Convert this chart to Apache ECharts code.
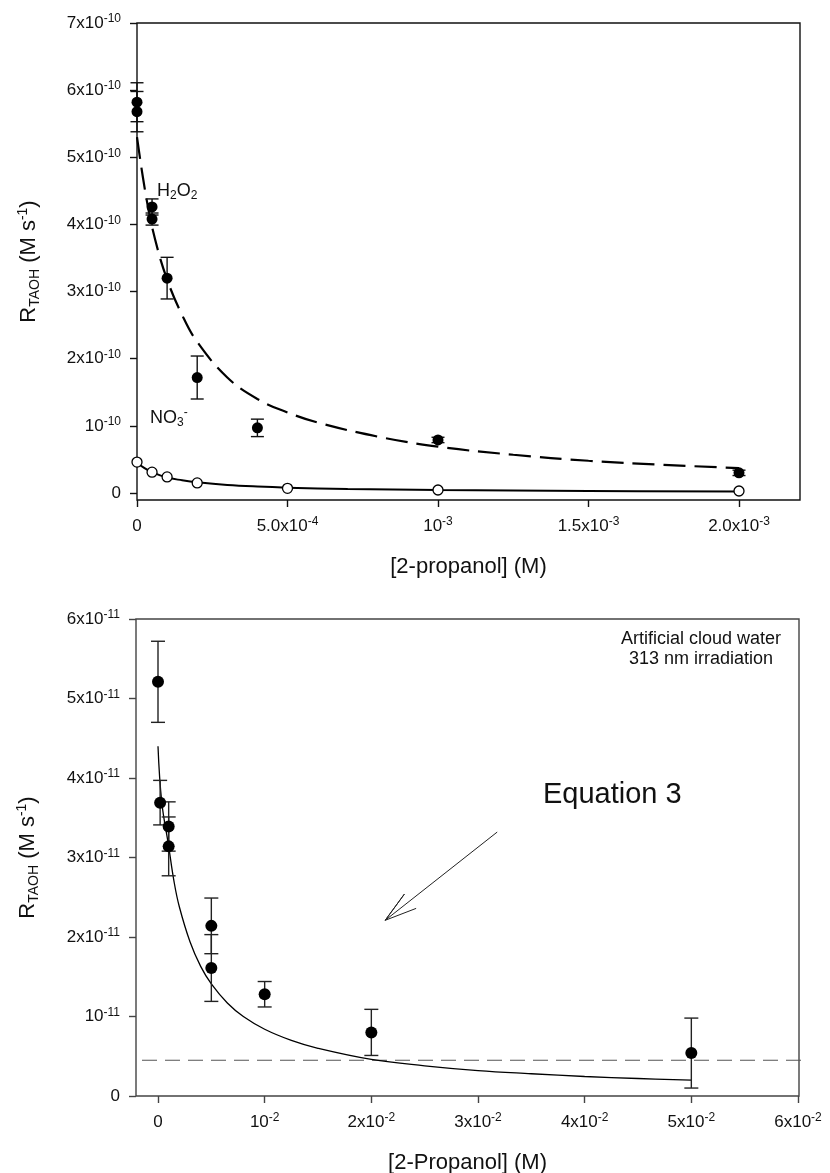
<!DOCTYPE html>
<html>
<head>
<meta charset="utf-8">
<script src="https://cdn.jsdelivr.net/npm/echarts@6/dist/echarts.min.js"></script>
<style>
  html, body { margin: 0; padding: 0; background: #fff; }
  #main { width: 830px; height: 1173px; }
</style>
</head>
<body>
<div id="main"></div>
<script>
// ---- top panel: H2O2 / NO3- (rates in units of 1e-10 M s-1) ----
var h2o2Conc = [0, 0, 0.00005, 0.00005, 0.0001, 0.0002, 0.0004, 0.001, 0.002];
var h2o2Rate = [5.82, 5.68, 4.26, 4.08, 3.20, 1.72, 0.97, 0.79, 0.30];
var h2o2Err = [0.29, 0.30, 0.12, 0.09, 0.31, 0.32, 0.13, 0.04, 0.04];

var no3Conc = [0, 0.00005, 0.0001, 0.0002, 0.0005, 0.001, 0.002];
var no3Rate = [0.46, 0.31, 0.24, 0.15, 0.07, 0.045, 0.03];

// fitted curves
var h2o2FitConc = [0, 0.00003, 0.00006, 0.0001, 0.00015, 0.0002, 0.0003, 0.0004, 0.0005, 0.0006, 0.0008, 0.001, 0.00125, 0.0015, 0.00175, 0.002];
var h2o2FitRate = [5.30, 4.42, 3.78, 3.18, 2.65, 2.25, 1.72, 1.40, 1.20, 1.05, 0.84, 0.69, 0.57, 0.48, 0.42, 0.37];
var no3FitConc = [0, 0.000025, 0.00005, 0.0001, 0.00015, 0.0002, 0.0003, 0.0004, 0.0005, 0.0007, 0.001, 0.0015, 0.002];
var no3FitRate = [0.45, 0.37, 0.31, 0.23, 0.19, 0.16, 0.12, 0.096, 0.08, 0.06, 0.044, 0.03, 0.023];

var topXLabels = ['0', '5.0x10^-4', '10^-3', '1.5x10^-3', '2.0x10^-3'];
var topYLabels = ['0', '10^-10', '2x10^-10', '3x10^-10', '4x10^-10', '5x10^-10', '6x10^-10', '7x10^-10'];

// ---- bottom panel: artificial cloud water (rates in units of 1e-11 M s-1) ----
var cloudConc = [0, 0.0002, 0.001, 0.001, 0.005, 0.005, 0.01, 0.02, 0.05];
var cloudRate = [5.21, 3.69, 3.39, 3.14, 2.14, 1.61, 1.28, 0.80, 0.54];
var cloudErr = [0.51, 0.28, 0.31, 0.37, 0.35, 0.42, 0.16, 0.29, 0.44];

var cloudFitConc = [0, 0.00035, 0.001, 0.0015, 0.002, 0.003, 0.004, 0.005, 0.0065, 0.008, 0.01, 0.0125, 0.015, 0.02, 0.025, 0.03, 0.035, 0.04, 0.045, 0.05];
var cloudFitRate = [4.40, 3.70, 3.14, 2.70, 2.38, 1.94, 1.63, 1.41, 1.17, 1.00, 0.84, 0.70, 0.60, 0.46, 0.38, 0.32, 0.28, 0.245, 0.22, 0.20];

var baselineConc = [-0.0015, 0.0604];
var baselineRate = 0.45;

// "Equation 3" arrow: tail, tip, wing, tip, wing
var arrowConc = [0.0318, 0.0213, 0.0231, 0.0213, 0.0242];
var arrowRate = [3.32, 2.21, 2.54, 2.21, 2.36];

var bottomXLabels = ['0', '10^-2', '2x10^-2', '3x10^-2', '4x10^-2', '5x10^-2', '6x10^-2'];
var bottomYLabels = ['0', '10^-11', '2x10^-11', '3x10^-11', '4x10^-11', '5x10^-11', '6x10^-11'];

var FONT = '"Liberation Sans", Arial, sans-serif';

// plot boxes (px): data area and surrounding frame
var topData = { left: 137, top: 23, width: 602, height: 470 };
var topFrame = { left: 137, top: 23, width: 663, height: 477 };
var botData = { left: 158, top: 619, width: 640, height: 477 };
var botFrame = { left: 136, top: 619, width: 663, height: 477 };

function zip(xs, ys) {
  return xs.map(function (x, i) { return [x, ys[i]]; });
}
function bars(xs, ys, es) {
  return xs.map(function (x, i) { return [x, ys[i] - es[i], ys[i] + es[i]]; });
}

var tickRich = {
  b: { fontSize: 17, lineHeight: 20, color: '#111', fontFamily: FONT },
  s: { fontSize: 12, lineHeight: 14, color: '#111', fontFamily: FONT, verticalAlign: 'top' }
};
function tickFormatter(labels, min, step) {
  return function (v) {
    var s = labels[Math.round((v - min) / step)];
    if (s == null) return '';
    var p = s.split('^');
    return p[1] ? '{b|' + p[0] + '}{s|' + p[1] + '}' : '{b|' + p[0] + '}';
  };
}

function dataAxis(grid, min, max, step, labels, color, extra) {
  var a = {
    type: 'value', gridIndex: grid, min: min, max: max, interval: step,
    axisLine: { show: false, onZero: false },
    axisTick: { show: true, inside: false, length: 7, lineStyle: { color: color, width: 1.4 } },
    axisLabel: { formatter: tickFormatter(labels, min, step), rich: tickRich, margin: 16 },
    splitLine: { show: false }
  };
  for (var k in extra) a[k] = extra[k];
  return a;
}

var nameRich = {
  m: { fontSize: 22, lineHeight: 26, color: '#111', fontFamily: FONT },
  sub: { fontSize: 14, lineHeight: 16, color: '#111', fontFamily: FONT, verticalAlign: 'bottom' },
  sup: { fontSize: 14, lineHeight: 16, color: '#111', fontFamily: FONT, verticalAlign: 'top' }
};
var yName = '{m|R}{sub|TAOH}{m| (M s}{sup|-1}{m|)}';

function frameAxis(grid, name, gap, min, max) {
  return {
    type: 'value', gridIndex: grid, min: min, max: max,
    axisLine: { show: false, onZero: false }, axisTick: { show: false }, axisLabel: { show: false },
    splitLine: { show: false },
    name: name, nameLocation: 'middle', nameGap: gap,
    nameTextStyle: { rich: nameRich, fontSize: 22, color: '#111', fontFamily: FONT }
  };
}

// bottom frame x-range, same scale as the data area (0..0.06 over botData.width)
var botScale = 0.06 / botData.width;
var botFrameMin = -(botData.left - botFrame.left) * botScale;
var botFrameMax = 0.06 + (botFrame.left + botFrame.width - botData.left - botData.width) * botScale;

function errorBarItem(capHalf, color) {
  return function (params, api) {
    var x = api.value(0);
    var lo = api.coord([x, api.value(1)]);
    var hi = api.coord([x, api.value(2)]);
    var st = { stroke: color, lineWidth: 1.4 };
    return {
      type: 'group',
      children: [
        { type: 'line', shape: { x1: lo[0], y1: lo[1], x2: hi[0], y2: hi[1] }, style: st },
        { type: 'line', shape: { x1: lo[0] - capHalf, y1: lo[1], x2: lo[0] + capHalf, y2: lo[1] }, style: st },
        { type: 'line', shape: { x1: hi[0] - capHalf, y1: hi[1], x2: hi[0] + capHalf, y2: hi[1] }, style: st }
      ]
    };
  };
}

function gridOf(box, frame, color) {
  var g = { left: box.left, top: box.top, width: box.width, height: box.height, outerBoundsMode: 'none' };
  if (frame) {
    g.show = true;
    g.borderColor = color;
    g.borderWidth = 1.4;
    g.backgroundColor = 'transparent';
  }
  return g;
}

var option = {
  animation: false,
  backgroundColor: '#fff',
  grid: [
    gridOf(topData, false),
    gridOf(topFrame, true, '#111'),
    gridOf(botData, false),
    gridOf(botFrame, true, '#444')
  ],
  xAxis: [
    dataAxis(0, 0, 0.002, 0.0005, topXLabels, '#111', { offset: 7 }),
    frameAxis(1, '{m|[2-propanol] (M)}', 54, 0, 1),
    dataAxis(2, 0, 0.06, 0.01, bottomXLabels, '#444', {}),
    frameAxis(3, '{m|[2-Propanol] (M)}', 54, botFrameMin, botFrameMax)
  ],
  yAxis: [
    dataAxis(0, 0, 7, 1, topYLabels, '#111', {}),
    frameAxis(1, yName, 95, 0, 1),
    dataAxis(2, 0, 6, 1, bottomYLabels, '#444', { offset: 22 }),
    frameAxis(3, yName, 95, 0, 6)
  ],
  graphic: [
    {
      type: 'text', x: 157, y: 191,
      style: {
        text: '{m|H}{d|2}{m|O}{d|2}', verticalAlign: 'middle', align: 'left',
        rich: {
          m: { fontSize: 18, lineHeight: 22, fill: '#111', fontFamily: FONT },
          d: { fontSize: 12, lineHeight: 14, fill: '#111', fontFamily: FONT, verticalAlign: 'bottom' }
        }
      }
    },
    {
      type: 'text', x: 150, y: 418,
      style: {
        text: '{m|NO}{d|3}{u|-}', verticalAlign: 'middle', align: 'left',
        rich: {
          m: { fontSize: 18, lineHeight: 22, fill: '#111', fontFamily: FONT },
          d: { fontSize: 12, lineHeight: 14, fill: '#111', fontFamily: FONT, verticalAlign: 'bottom' },
          u: { fontSize: 12, lineHeight: 14, fill: '#111', fontFamily: FONT, verticalAlign: 'top' }
        }
      }
    },
    {
      type: 'text', x: 701, y: 649,
      style: {
        text: 'Artificial cloud water\n313 nm irradiation', align: 'center', verticalAlign: 'middle',
        fontSize: 18, lineHeight: 20, fill: '#111', fontFamily: FONT
      }
    },
    {
      type: 'text', x: 543, y: 795,
      style: {
        text: 'Equation 3', align: 'left', verticalAlign: 'middle',
        fontSize: 29, fill: '#111', fontFamily: FONT
      }
    }
  ],
  series: [
    {
      type: 'line', xAxisIndex: 0, yAxisIndex: 0, data: zip(h2o2FitConc, h2o2FitRate),
      showSymbol: false, smooth: 0.4,
      lineStyle: { color: '#000', width: 2.2, type: [22, 9] }, z: 2
    },
    {
      type: 'line', xAxisIndex: 0, yAxisIndex: 0, data: zip(no3FitConc, no3FitRate),
      showSymbol: false, smooth: 0.4,
      lineStyle: { color: '#000', width: 2 }, z: 2
    },
    {
      type: 'custom', xAxisIndex: 0, yAxisIndex: 0, data: bars(h2o2Conc, h2o2Rate, h2o2Err),
      renderItem: errorBarItem(6.5, '#111'), encode: { x: 0, y: [1, 2] }, z: 3
    },
    {
      type: 'scatter', xAxisIndex: 0, yAxisIndex: 0, data: zip(h2o2Conc, h2o2Rate),
      symbol: 'circle', symbolSize: 11, itemStyle: { color: '#000', opacity: 1 }, z: 4
    },
    {
      type: 'scatter', xAxisIndex: 0, yAxisIndex: 0, data: zip(no3Conc, no3Rate),
      symbol: 'circle', symbolSize: 10,
      itemStyle: { color: '#fff', borderColor: '#000', borderWidth: 1.3, opacity: 1 }, z: 4
    },
    {
      type: 'line', xAxisIndex: 3, yAxisIndex: 3,
      data: baselineConc.map(function (x) { return [x, baselineRate]; }),
      showSymbol: false, clip: false,
      lineStyle: { color: '#555', width: 1.1, type: [15, 8] }, z: 2
    },
    {
      type: 'line', xAxisIndex: 2, yAxisIndex: 2, data: zip(cloudFitConc, cloudFitRate),
      showSymbol: false, smooth: 0.4,
      lineStyle: { color: '#000', width: 1.3 }, z: 2
    },
    {
      type: 'line', xAxisIndex: 2, yAxisIndex: 2, data: zip(arrowConc, arrowRate),
      showSymbol: false, clip: false,
      lineStyle: { color: '#222', width: 1 }, z: 2
    },
    {
      type: 'custom', xAxisIndex: 2, yAxisIndex: 2, data: bars(cloudConc, cloudRate, cloudErr),
      renderItem: errorBarItem(7, '#222'), encode: { x: 0, y: [1, 2] }, z: 3
    },
    {
      type: 'scatter', xAxisIndex: 2, yAxisIndex: 2, data: zip(cloudConc, cloudRate),
      symbol: 'circle', symbolSize: 12, itemStyle: { color: '#000', opacity: 1 }, z: 4
    }
  ]
};

var chart = echarts.init(document.getElementById('main'), null, { renderer: 'canvas' });
chart.setOption(option);
</script>
</body>
</html>
